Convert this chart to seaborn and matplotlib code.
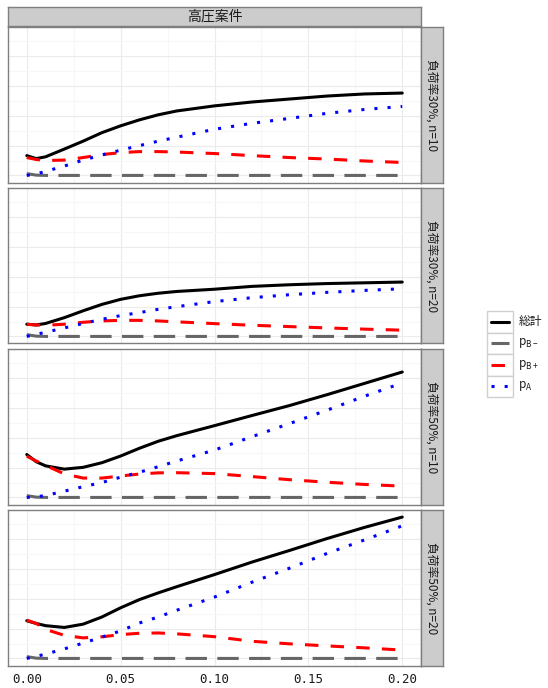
import matplotlib
matplotlib.use("Agg")
import matplotlib.pyplot as plt
from matplotlib.patches import Rectangle
from matplotlib.lines import Line2D
import numpy as np
import pandas as pd
import seaborn as sns

# ---- data ----
x = [0, 0.005, 0.01, 0.02, 0.03, 0.04, 0.05, 0.06, 0.07, 0.08, 0.10, 0.12, 0.14, 0.16, 0.18, 0.20]

series_names = ["総計", "pB-", "pB+", "pA"]
series_labels = ["総計", r"$\mathregular{p_{B-}}$", r"$\mathregular{p_{B+}}$", r"$\mathregular{p_{A}}$"]
row_labels = ["負荷率30%, n=10", "負荷率30%, n=20", "負荷率50%, n=10", "負荷率50%, n=20"]
col_label = "高圧案件"

pbm = [0.12, 0.02, 0, 0, 0, 0, 0, 0, 0, 0, 0, 0, 0, 0, 0, 0]

total_30_10 = [1.33, 1.13, 1.25, 1.77, 2.3, 2.87, 3.33, 3.73, 4.07, 4.33, 4.67, 4.93, 5.13, 5.33, 5.47, 5.53]
pbp_30_10 = [1.2, 1.07, 1.0, 1.03, 1.2, 1.4, 1.53, 1.6, 1.6, 1.57, 1.47, 1.33, 1.2, 1.1, 0.97, 0.87]
pa_30_10 = [0, 0.1, 0.27, 0.63, 1.03, 1.37, 1.7, 2.0, 2.3, 2.57, 3.1, 3.5, 3.83, 4.17, 4.43, 4.63]

total_30_20 = [0.82, 0.77, 0.87, 1.26, 1.72, 2.15, 2.49, 2.73, 2.9, 3.02, 3.17, 3.36, 3.47, 3.55, 3.6, 3.65]
pbp_30_20 = [0.82, 0.77, 0.75, 0.82, 0.95, 1.04, 1.08, 1.08, 1.04, 0.98, 0.86, 0.75, 0.66, 0.57, 0.49, 0.42]
pa_30_20 = [0, 0.14, 0.28, 0.57, 0.87, 1.15, 1.4, 1.6, 1.82, 2.0, 2.34, 2.6, 2.8, 2.96, 3.09, 3.2]

total_50_10 = [2.88, 2.4, 2.12, 1.9, 2.02, 2.33, 2.78, 3.3, 3.77, 4.15, 4.82, 5.5, 6.17, 6.9, 7.66, 8.42]
pbp_50_10 = [2.77, 2.45, 2.15, 1.58, 1.3, 1.3, 1.44, 1.57, 1.65, 1.66, 1.6, 1.4, 1.19, 1.02, 0.87, 0.76]
pa_50_10 = [0, 0.04, 0.13, 0.42, 0.72, 1.0, 1.36, 1.69, 2.06, 2.45, 3.18, 4.08, 4.96, 5.86, 6.8, 7.68]

total_50_20 = [2.53, 2.35, 2.2, 2.08, 2.3, 2.78, 3.4, 3.95, 4.4, 4.82, 5.63, 6.47, 7.25, 8.05, 8.8, 9.49]
pbp_50_20 = [2.57, 2.35, 1.95, 1.55, 1.38, 1.45, 1.6, 1.69, 1.71, 1.65, 1.46, 1.15, 0.98, 0.84, 0.71, 0.56]
pa_50_20 = [0, 0.14, 0.29, 0.64, 1.03, 1.43, 1.85, 2.38, 2.78, 3.24, 4.12, 5.12, 6.06, 7.05, 7.96, 8.9]

x_ticks = [0.00, 0.05, 0.10, 0.15, 0.20]

panels = [
    (total_30_10, pbm, pbp_30_10, pa_30_10),
    (total_30_20, pbm, pbp_30_20, pa_30_20),
    (total_50_10, pbm, pbp_50_10, pa_50_10),
    (total_50_20, pbm, pbp_50_20, pa_50_20),
]

# ---- styles ----
colors = {"総計": "#000000", "pB-": "#666666", "pB+": "#FF0000", "pA": "#0000FF"}
dashes = {"総計": "", "pB-": (7, 3.4), "pB+": (4.4, 4.0), "pA": (1.0, 3.3)}
LW = 2.2

sns.set_theme(style="white")
plt.rcParams["font.family"] = ["Noto Sans CJK JP", "DejaVu Sans"]
plt.rcParams["mathtext.fontset"] = "dejavusans"

W, H = 548, 688
fig = plt.figure(figsize=(W / 100, H / 100), dpi=100)


def box(x0, y0, x1, y1):
    # pixel box -> figure fraction rect
    return [x0 / W, 1 - y1 / H, (x1 - x0) / W, (y1 - y0) / H]


all_vals = np.concatenate([np.array(v, dtype=float) for p in panels for v in p])
ymin, ymax = all_vals.min(), all_vals.max()
pad = 0.05 * (ymax - ymin)

left, right = 8, 421
tops = [27, 188, 349, 510]
ph = 155.5
border = "#7F7F7F"

for i, (vals, rlabel) in enumerate(zip(panels, row_labels)):
    df = pd.DataFrame({"x": x * 4,
                       "value": [v for s in vals for v in s],
                       "series": [n for n in series_names for _ in x]})
    ax = fig.add_axes(box(left, tops[i], right, tops[i] + ph))
    ax.set_facecolor("white")
    sns.lineplot(data=df, x="x", y="value", hue="series", style="series",
                 hue_order=series_names, style_order=series_names,
                 palette=colors, dashes=dashes, linewidth=LW,
                 sort=False, legend=False, ax=ax)
    ax.set_xlim(-0.01, 0.21)
    ax.set_ylim(ymin - pad, ymax + pad)
    ax.set_xticks(x_ticks)
    ax.set_xticks([0.025, 0.075, 0.125, 0.175], minor=True)
    ax.set_yticks([0, 2, 4, 6, 8])
    ax.set_yticks([1, 3, 5, 7, 9], minor=True)
    ax.grid(True, which="major", color="#EBEBEB", linewidth=0.8)
    ax.grid(True, which="minor", color="#F7F7F7", linewidth=0.8)
    ax.set_axisbelow(True)
    ax.set_xlabel("")
    ax.set_ylabel("")
    ax.set_yticklabels([])
    ax.tick_params(axis="y", which="both", length=0)
    for sp in ax.spines.values():
        sp.set_color(border)
        sp.set_linewidth(1.0)
    if i == len(panels) - 1:
        ax.set_xticklabels([f"{t:.2f}" for t in x_ticks], family="DejaVu Sans Mono",
                           fontsize=9, color="#1A1A1A")
        ax.tick_params(axis="x", which="major", length=3.5, width=0.9, color="#333333", pad=2)
        ax.tick_params(axis="x", which="minor", length=0)
    else:
        ax.set_xticklabels([])
        ax.tick_params(axis="x", which="both", length=0)

    # right strip
    sax = fig.add_axes(box(right, tops[i], right + 22, tops[i] + ph))
    sax.set_facecolor("#CCCCCC")
    sax.set_xticks([])
    sax.set_yticks([])
    for sp in sax.spines.values():
        sp.set_color(border)
        sp.set_linewidth(1.0)
    sax.text(0.5, 0.5, rlabel, rotation=270, ha="center", va="center",
             fontsize=8.5, color="#1A1A1A", transform=sax.transAxes)

# top strip
tax = fig.add_axes(box(left, 7, right, 26))
tax.set_facecolor("#CCCCCC")
tax.set_xticks([])
tax.set_yticks([])
for sp in tax.spines.values():
    sp.set_color(border)
    sp.set_linewidth(1.0)
tax.text(0.5, 0.5, col_label, ha="center", va="center", fontsize=10,
         color="#1A1A1A", transform=tax.transAxes)

# legend (ggplot-like key boxes)
lax = fig.add_axes(box(487, 311, 513, 397))
lax.set_xlim(0, 1)
lax.set_ylim(0, 4)
lax.axis("off")
for k, (name, lab) in enumerate(zip(series_names, series_labels)):
    y0 = 3 - k
    lax.add_patch(Rectangle((0, y0), 1, 1, facecolor="white", edgecolor="#D0D0D0",
                            linewidth=1.0, clip_on=False))
    ln = Line2D([0.15, 0.85], [y0 + 0.5, y0 + 0.5], color=colors[name], linewidth=LW)
    if dashes[name]:
        ln.set_dashes(dashes[name])
    lax.add_line(ln)
    lax.text(1.2, y0 + 0.5, lab, ha="left", va="center", fontsize=8.5,
             color="#1A1A1A", clip_on=False)

fig.savefig("out.png", dpi=100, facecolor="white")
